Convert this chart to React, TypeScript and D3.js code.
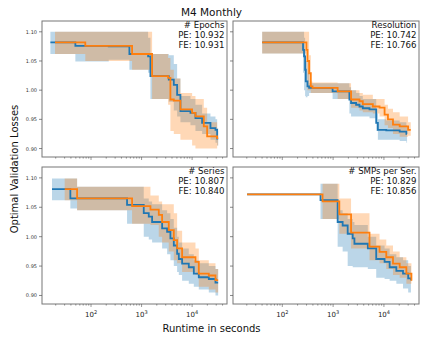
import React from "react";
import * as d3 from "d3";

// each row: [runtime seconds, mean loss, lower band, upper band]
type Row = [number, number, number, number];

const epochsPE: Row[] = [
  [15.7, 1.082, 1.062, 1.1],
  [49, 1.076, 1.049, 1.1],
  [224, 1.075, 1.052, 1.1],
  [574, 1.062, 1.035, 1.1],
  [1346, 1.058, 1.03, 1.09],
  [1497, 1.024, 0.985, 1.062],
  [3450, 1.018, 0.98, 1.06],
  [4340, 1.009, 0.965, 1.045],
  [5050, 0.992, 0.955, 1.02],
  [5870, 0.964, 0.945, 0.99],
  [9270, 0.961, 0.94, 0.985],
  [11640, 0.952, 0.93, 0.975],
  [15780, 0.944, 0.925, 0.96],
  [23060, 0.935, 0.915, 0.955],
  [28970, 0.932, 0.91, 0.95],
  [31260, 0.917, 0.905, 0.935],
  [32730, 0.917, 0.905, 0.935],
];
const epochsFE: Row[] = [
  [19.4, 1.082, 1.062, 1.1],
  [77, 1.076, 1.05, 1.1],
  [649, 1.062, 1.035, 1.1],
  [1615, 1.024, 0.985, 1.062],
  [3350, 1.021, 0.975, 1.055],
  [3720, 0.984, 0.93, 1.035],
  [4340, 0.982, 0.925, 1.02],
  [5870, 0.967, 0.915, 0.995],
  [10000, 0.961, 0.905, 0.99],
  [11640, 0.955, 0.9, 0.985],
  [17020, 0.938, 0.9, 0.97],
  [19820, 0.921, 0.9, 0.945],
  [31260, 0.918, 0.905, 0.93],
  [32730, 0.918, 0.905, 0.93],
];

const resolutionPE: Row[] = [
  [40.2, 1.082, 1.063, 1.1],
  [256, 1.069, 1.03, 1.1],
  [268, 1.058, 1.0, 1.09],
  [281, 1.035, 0.99, 1.07],
  [290, 1.015, 0.988, 1.05],
  [313, 1.0065, 0.99, 1.03],
  [337, 1.004, 0.995, 1.012],
  [977, 0.998, 0.985, 1.012],
  [2090, 0.984, 0.96, 1.005],
  [2255, 0.978, 0.955, 1.0],
  [2830, 0.975, 0.955, 0.995],
  [3300, 0.972, 0.955, 0.99],
  [3840, 0.969, 0.955, 0.985],
  [5200, 0.967, 0.952, 0.985],
  [7050, 0.944, 0.93, 0.96],
  [7600, 0.932, 0.915, 0.95],
  [11120, 0.931, 0.915, 0.948],
  [20400, 0.929, 0.913, 0.945],
  [27650, 0.925, 0.91, 0.94],
  [28500, 0.925, 0.91, 0.94],
];
const resolutionFE: Row[] = [
  [40.2, 1.082, 1.063, 1.1],
  [299, 1.069, 1.03, 1.1],
  [313, 1.05, 1.0, 1.1],
  [337, 1.029, 1.0, 1.06],
  [364, 1.0065, 0.995, 1.015],
  [393, 1.004, 0.995, 1.013],
  [1228, 0.998, 0.985, 1.012],
  [2255, 0.984, 0.97, 1.0],
  [3300, 0.981, 0.965, 0.995],
  [3840, 0.976, 0.962, 0.992],
  [6050, 0.972, 0.96, 0.985],
  [8200, 0.97, 0.955, 0.985],
  [10300, 0.958, 0.94, 0.975],
  [12000, 0.95, 0.935, 0.968],
  [15070, 0.941, 0.925, 0.962],
  [20400, 0.938, 0.92, 0.955],
  [29850, 0.932, 0.922, 0.945],
  [33700, 0.932, 0.922, 0.945],
];

const seriesPE: Row[] = [
  [16.9, 1.081, 1.062, 1.099],
  [39, 1.065, 1.048, 1.099],
  [53, 1.065, 1.045, 1.085],
  [516, 1.054, 1.022, 1.085],
  [1104, 1.04, 1.0, 1.065],
  [1387, 1.034, 0.995, 1.06],
  [1615, 1.025, 0.99, 1.055],
  [2550, 1.014, 0.98, 1.045],
  [3200, 1.008, 0.97, 1.04],
  [3720, 0.997, 0.96, 1.03],
  [4340, 0.985, 0.95, 1.015],
  [5050, 0.971, 0.94, 1.0],
  [5450, 0.962, 0.935, 0.99],
  [6340, 0.954, 0.925, 0.98],
  [8590, 0.948, 0.92, 0.97],
  [10800, 0.937, 0.915, 0.96],
  [13550, 0.931, 0.91, 0.955],
  [21380, 0.928, 0.905, 0.95],
  [28970, 0.922, 0.9, 0.945],
  [32730, 0.922, 0.9, 0.945],
];
const seriesFE: Row[] = [
  [30.1, 1.081, 1.062, 1.099],
  [53, 1.065, 1.045, 1.085],
  [649, 1.052, 1.022, 1.085],
  [1497, 1.046, 1.02, 1.07],
  [2190, 1.037, 1.0, 1.06],
  [2550, 1.025, 0.99, 1.055],
  [3450, 1.011, 0.975, 1.055],
  [4340, 0.994, 0.96, 1.04],
  [5050, 0.98, 0.955, 1.01],
  [6340, 0.965, 0.94, 0.99],
  [11640, 0.957, 0.935, 0.98],
  [13550, 0.937, 0.915, 0.96],
  [21380, 0.934, 0.91, 0.955],
  [28970, 0.926, 0.905, 0.945],
  [32730, 0.926, 0.905, 0.945],
];

const smpsPE: Row[] = [
  [20.3, 1.072, 1.072, 1.072],
  [565, 1.062, 1.03, 1.09],
  [1228, 1.025, 0.983, 1.045],
  [1540, 1.019, 0.975, 1.04],
  [1935, 1.005, 0.95, 1.03],
  [2430, 0.997, 0.948, 1.025],
  [2625, 0.988, 0.948, 1.02],
  [4820, 0.98, 0.945, 1.0],
  [7050, 0.962, 0.93, 0.985],
  [10300, 0.957, 0.928, 0.98],
  [12950, 0.948, 0.925, 0.97],
  [17550, 0.942, 0.92, 0.965],
  [23750, 0.937, 0.912, 0.96],
  [30000, 0.929, 0.905, 0.95],
  [34000, 0.926, 0.905, 0.95],
];
const smpsFE: Row[] = [
  [20.3, 1.072, 1.072, 1.072],
  [620, 1.06, 1.03, 1.09],
  [1325, 1.038, 1.005, 1.065],
  [2255, 1.007, 0.98, 1.04],
  [5200, 0.983, 0.96, 1.005],
  [8200, 0.974, 0.955, 0.995],
  [11120, 0.965, 0.945, 0.985],
  [15070, 0.954, 0.935, 0.975],
  [20400, 0.948, 0.93, 0.965],
  [27650, 0.937, 0.92, 0.955],
  [34760, 0.925, 0.915, 0.94],
];

const panelNames = ["# Epochs", "Resolution", "# Series", "# SMPs per Ser."];
const peScores = ["10.932", "10.742", "10.807", "10.829"];
const feScores = ["10.931", "10.766", "10.840", "10.856"];
const peData = [epochsPE, resolutionPE, seriesPE, smpsPE];
const feData = [epochsFE, resolutionFE, seriesFE, smpsFE];
const yTicks = [0.9, 0.95, 1.0, 1.05, 1.1];

const W = 423;
const H = 338;
const BLUE = "#1f77b4";
const ORANGE = "#ff7f0e";
const FONT = "DejaVu Sans, sans-serif";

const boxes = [
  { x0: 42, x1: 227, y0: 21, y1: 157 },
  { x0: 233, x1: 419, y0: 21, y1: 157 },
  { x0: 42, x1: 227, y0: 167, y1: 304 },
  { x0: 233, x1: 419, y0: 167, y1: 304 },
];

type Box = { x0: number; x1: number; y0: number; y1: number };

function Panel({ i, box }: { i: number; box: Box }) {
  const x = d3.scaleLog().domain([10 ** 1.03, 10 ** 4.69]).range([box.x0, box.x1]);
  const y = d3.scaleLinear().domain([0.8855, 1.1185]).range([box.y1, box.y0]);

  const line = d3
    .line<Row>()
    .x((d) => x(d[0]))
    .y((d) => y(d[1]))
    .curve(d3.curveStepAfter);
  const area = d3
    .area<Row>()
    .x((d) => x(d[0]))
    .y0((d) => y(d[2]))
    .y1((d) => y(d[3]))
    .curve(d3.curveStepAfter);

  const ticks = x.ticks();
  const isMajor = (t: number) => Math.abs(Math.log10(t) - Math.round(Math.log10(t))) < 1e-9;
  const showX = i >= 2;
  const showY = i % 2 === 0;

  return (
    <g>
      <path d={area(peData[i]) || ""} fill={BLUE} fillOpacity={0.3} />
      <path d={area(feData[i]) || ""} fill={ORANGE} fillOpacity={0.3} />
      <path d={line(peData[i]) || ""} fill="none" stroke={BLUE} strokeWidth={1.8} />
      <path d={line(feData[i]) || ""} fill="none" stroke={ORANGE} strokeWidth={1.8} />

      <rect
        x={box.x0}
        y={box.y0}
        width={box.x1 - box.x0}
        height={box.y1 - box.y0}
        fill="none"
        stroke="#777"
        strokeWidth={1}
      />

      {/* y ticks */}
      {yTicks.map((t) => (
        <g key={t}>
          <line x1={box.x0 - 3} x2={box.x0} y1={y(t)} y2={y(t)} stroke="#555" strokeWidth={0.7} />
          {showY && (
            <text
              x={box.x0 - 5}
              y={y(t)}
              textAnchor="end"
              dominantBaseline="central"
              fontSize={5}
              fill="#333"
              fontFamily={FONT}
            >
              {t.toFixed(2)}
            </text>
          )}
        </g>
      ))}

      {/* x ticks */}
      {ticks.map((t) => (
        <line
          key={t}
          x1={x(t)}
          x2={x(t)}
          y1={box.y1}
          y2={box.y1 + (isMajor(t) ? 3 : 1.6)}
          stroke="#555"
          strokeWidth={0.6}
        />
      ))}
      {showX &&
        ticks.filter(isMajor).map((t) => (
          <text
            key={"l" + t}
            x={x(t)}
            y={box.y1 + 12.7}
            textAnchor="middle"
            fontSize={7}
            fill="#222"
            fontFamily={FONT}
          >
            10
            <tspan dy={-3} fontSize={5}>
              {Math.round(Math.log10(t))}
            </tspan>
          </text>
        ))}

      {/* annotation */}
      <g fontFamily={FONT} fontSize={8.6} fill="#111" textAnchor="end">
        <text x={box.x1 - 2.5} y={box.y0 + 7.1}>{panelNames[i]}</text>
        <text x={box.x1 - 2.5} y={box.y0 + 17.2}>{"PE: " + peScores[i]}</text>
        <text x={box.x1 - 2.5} y={box.y0 + 27.3}>{"FE: " + feScores[i]}</text>
      </g>
    </g>
  );
}

export default function App() {
  return (
    <div style={{ position: "absolute", left: 0, top: 0 }}>
      <svg width={W} height={H} style={{ display: "block", background: "#fff" }}>
        <text x={211.5} y={15.5} textAnchor="middle" fontSize={10.5} fontFamily={FONT} fill="#111">
          M4 Monthly
        </text>
        {boxes.map((b, i) => (
          <Panel key={i} i={i} box={b} />
        ))}
        <text x={211.5} y={332} textAnchor="middle" fontSize={10} fontFamily={FONT} fill="#111">
          Runtime in seconds
        </text>
        <text
          transform="translate(17.5,169) rotate(-90)"
          textAnchor="middle"
          fontSize={10}
          fontFamily={FONT}
          fill="#111"
        >
          Optimal Validation Losses
        </text>
      </svg>
    </div>
  );
}
